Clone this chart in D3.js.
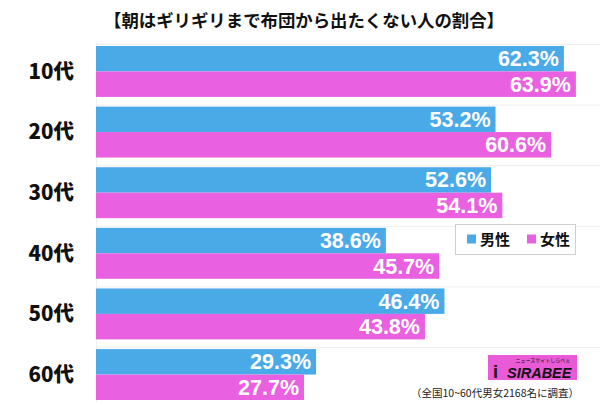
<!DOCTYPE html>
<html><head><meta charset="utf-8">
<script src="https://cdn.jsdelivr.net/npm/d3@7"></script>
<style>
body{margin:0;background:#fff;}
svg{display:block;}
</style></head>
<body>
<svg id="c" width="600" height="405"></svg>
<script>
const categories = ["10代","20代","30代","40代","50代","60代"];
const seriesNames = ["男性","女性"];
const male = [62.3, 53.2, 52.6, 38.6, 46.4, 29.3];
const female = [63.9, 60.6, 54.1, 45.7, 43.8, 27.7];
const colors = ["#4aaae8", "#e960e0"];
const title = "【朝はギリギリまで布団から出たくない人の割合】";
const note = "（全国10~60代男女2168名に調査）";

const svg = d3.select("#c");
const font = "'Noto Sans CJK JP', 'Noto Sans', sans-serif";
const numFont = "'Liberation Sans', Arial, sans-serif";

const x = d3.scaleLinear().domain([0, 100]).range([96, 847]);
const y = d3.scaleBand().domain(categories).range([46, 400]).paddingInner(0.16).paddingOuter(0);
const ys = d3.scaleBand().domain(seriesNames).range([0, y.bandwidth()]);

svg.append("text").attr("x", 304).attr("y", 27).attr("text-anchor", "middle")
  .attr("font-family", font).attr("font-weight", "bold").attr("font-size", 17.4)
  .attr("fill", "#111").text(title);

// faint group separators
svg.append("g").selectAll("line").data(categories).join("line")
  .attr("x1", 96).attr("x2", 600)
  .attr("y1", d => y(d) - 1.5).attr("y2", d => y(d) - 1.5)
  .attr("stroke", "#eeeeee").attr("stroke-width", 1);
svg.append("line").attr("x1", 96.5).attr("x2", 96.5).attr("y1", 42).attr("y2", 402)
  .attr("stroke", "#f0f0f0");

const data = [];
categories.forEach((c, i) => {
  data.push({c, s: seriesNames[0], v: male[i], col: colors[0]});
  data.push({c, s: seriesNames[1], v: female[i], col: colors[1]});
});

const g = svg.append("g");
g.selectAll("rect").data(data).join("rect")
  .attr("x", x(0))
  .attr("y", d => y(d.c) + ys(d.s))
  .attr("width", d => x(d.v) - x(0))
  .attr("height", ys.bandwidth())
  .attr("fill", d => d.col);

g.selectAll("text.val").data(data).join("text").attr("class", "val")
  .attr("x", d => x(d.v) - 5)
  .attr("y", d => y(d.c) + ys(d.s) + ys.bandwidth() / 2 + 7.5)
  .attr("text-anchor", "end")
  .attr("font-family", numFont).attr("font-weight", "bold").attr("font-size", 21.5)
  .attr("fill", "#fff").text(d => d.v.toFixed(1) + "%");

// category labels
const yAxis = d3.axisLeft(y).tickSize(0).tickPadding(0);
const ax = svg.append("g").attr("transform", "translate(74,0)").call(yAxis);
ax.select(".domain").remove();
ax.selectAll("text").attr("font-family", font).attr("font-weight", "900")
  .attr("font-size", 20.5).attr("fill", "#111").attr("dy", "0.36em");

// legend
const lg = svg.append("g");
lg.append("rect").attr("x", 455.5).attr("y", 224.5).attr("width", 120).attr("height", 30)
  .attr("fill", "#fff").attr("stroke", "#cfcfcf");
const litems = lg.selectAll("g").data(seriesNames).join("g")
  .attr("transform", (d, i) => `translate(${467 + i * 60},239)`);
litems.append("rect").attr("x", 0).attr("y", -4.5).attr("width", 9).attr("height", 9)
  .attr("fill", (d, i) => colors[i]);
litems.append("text").attr("x", 13).attr("y", 5.5)
  .attr("font-family", font).attr("font-weight", "bold").attr("font-size", 15)
  .attr("fill", "#111").text(d => d);

// logo
const logo = svg.append("g");
logo.append("rect").attr("x", 488).attr("y", 355).attr("width", 89).attr("height", 25).attr("fill", "#e85ad6");
logo.append("text").attr("x", 543).attr("y", 362).attr("text-anchor", "middle")
  .attr("font-family", font).attr("font-size", 5).attr("fill", "#111").text("ニュースサイトしらべぇ");
logo.append("text").attr("x", 507).attr("y", 378)
  .attr("font-family", numFont).attr("font-weight", "bold").attr("font-style", "italic")
  .attr("font-size", 14.5).attr("fill", "#111").text("SIRABEE");
logo.append("text").attr("x", 493).attr("y", 378)
  .attr("font-family", numFont).attr("font-weight", "bold")
  .attr("font-size", 18).attr("fill", "#111").text("i");

svg.append("text").attr("x", 579).attr("y", 397).attr("text-anchor", "end")
  .attr("font-family", font).attr("font-size", 10.5).attr("fill", "#222").text(note);
</script>
</body></html>
